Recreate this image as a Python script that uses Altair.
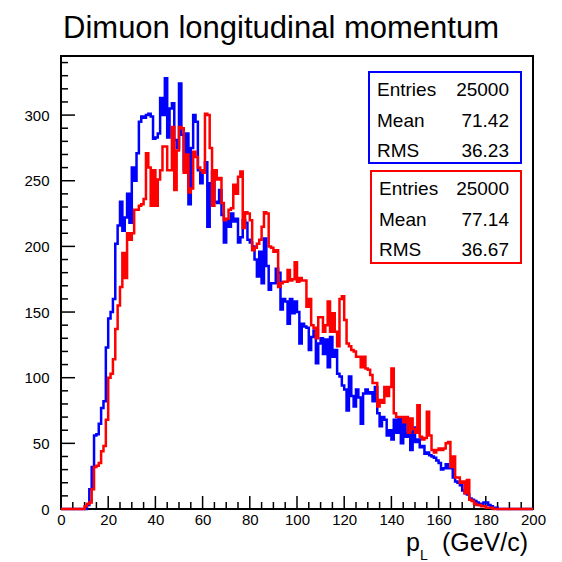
import altair as alt
import pandas as pd

FONT = "Liberation Sans"

# Bin contents, 1 GeV/c bins from 0 to 200 GeV/c
blue_counts = [
    0, 0, 0, 0, 0, 0, 0, 0, 0, 0,
    0, 3, 15, 32, 56, 57, 65, 77, 82, 123,
    145, 150, 160, 202, 216, 234, 212, 222, 240, 218,
    260, 250, 271, 295, 299, 298, 300, 301, 299, 282,
    283, 286, 313, 300, 328, 283, 305, 309, 281, 275,
    324, 285, 258, 286, 232, 275, 300, 295, 258, 248,
    258, 264, 215, 248, 257, 234, 233, 243, 224, 203,
    220, 215, 225, 219, 221, 203, 207, 220, 218, 205,
    203, 200, 190, 177, 196, 172, 206, 185, 167, 172,
    172, 183, 180, 152, 160, 158, 141, 160, 149, 158,
    150, 126, 141, 139, 138, 121, 131, 136, 111, 126,
    130, 118, 129, 108, 131, 116, 121, 103, 101, 94,
    91, 75, 101, 86, 78, 91, 85, 65, 88, 91,
    88, 89, 82, 93, 73, 63, 70, 68, 56, 60,
    53, 68, 58, 69, 50, 68, 55, 58, 45, 62,
    51, 53, 47, 48, 42, 43, 41, 40, 39, 37,
    35, 30, 31, 34, 31, 31, 24, 21, 20, 18,
    14, 12, 11, 8, 7, 6, 5, 3, 4, 5,
    5, 3, 2, 1, 1, 0, 0, 0, 0, 0,
    0, 0, 0, 0, 0, 0, 0, 0, 0, 0,
]

red_counts = [
    0, 0, 0, 0, 0, 0, 0, 0, 0, 0,
    2, 4, 5, 15, 32, 33, 35, 44, 48, 68,
    100, 103, 114, 137, 155, 169, 195, 176, 210, 205,
    210, 228, 228, 231, 232, 236, 271, 260, 231, 258,
    231, 251, 258, 276, 276, 258, 258, 291, 243, 273,
    291, 290, 256, 270, 241, 244, 272, 268, 260, 258,
    256, 301, 300, 275, 231, 258, 251, 252, 233, 220,
    221, 228, 229, 247, 240, 253, 257, 214, 226, 225,
    220, 197, 199, 202, 205, 215, 226, 225, 200, 199,
    196, 197, 169, 172, 173, 173, 182, 174, 175, 188,
    173, 176, 174, 174, 154, 160, 140, 138, 130, 146,
    146, 135, 140, 158, 135, 149, 135, 124, 160, 162,
    144, 126, 124, 121, 120, 116, 116, 108, 116, 107,
    106, 102, 96, 96, 78, 83, 81, 93, 86, 93,
    107, 73, 70, 70, 70, 66, 70, 58, 69, 61,
    58, 79, 55, 53, 54, 74, 56, 45, 43, 45,
    46, 45, 46, 50, 51, 32, 40, 24, 24, 20,
    21, 12, 22, 7, 6, 4, 3, 3, 2, 2,
    1, 1, 1, 0, 0, 0, 0, 0, 0, 0,
    0, 0, 0, 0, 0, 0, 0, 0, 0, 0,
]

stat_names = ["Entries", "Mean", "RMS"]
blue_stats = ["25000", "71.42", "36.23"]
red_stats = ["25000", "77.14", "36.67"]

title_text = "Dimuon longitudinal momentum"

x_major = list(range(0, 201, 20))
x_minor = [v for v in range(0, 201, 5) if v % 20]
y_major = list(range(0, 301, 50))
y_minor = [v for v in range(0, 341, 10) if v % 50]

W, H = 472, 453

x_scale = alt.Scale(domain=[0, 200], nice=False, zero=False)
y_scale = alt.Scale(domain=[0, 345], nice=False)

x_axis = alt.Axis(values=x_major, title=None, ticks=False, domain=False, grid=False,
                  labelFont=FONT, labelFontSize=15, labelColor="black",
                  labelPadding=3, labelFlush=False, format="d")
y_axis = alt.Axis(values=y_major, title=None, ticks=False, domain=False, grid=False,
                  labelFont=FONT, labelFontSize=15, labelColor="black",
                  labelPadding=12, labelFlush=False, format="d")


def hist_frame(counts):
    edges = list(range(len(counts) + 1))
    return pd.DataFrame({"pL": edges, "n": counts + [counts[-1]]})


def hist_layer(counts, color):
    return alt.Chart(hist_frame(counts)).mark_line(
        interpolate="step-after", color=color, strokeWidth=2.5
    ).encode(
        x=alt.X("pL:Q", scale=x_scale, axis=x_axis),
        y=alt.Y("n:Q", scale=y_scale, axis=y_axis),
    )


def x_ticks(values, length):
    return alt.Chart(pd.DataFrame({"pL": values})).mark_rule(
        color="black", strokeWidth=1.5
    ).encode(
        x=alt.X("pL:Q", scale=x_scale, axis=x_axis),
        y=alt.value(H), y2=alt.value(H - length),
    )


def y_ticks(values, length):
    return alt.Chart(pd.DataFrame({"n": values})).mark_rule(
        color="black", strokeWidth=1.5
    ).encode(
        y=alt.Y("n:Q", scale=y_scale, axis=y_axis),
        x=alt.value(0), x2=alt.value(length),
    )


def stat_box(names, values, color, left, top, bottom):
    box = alt.Chart(pd.DataFrame({"b": [0]})).mark_rect(
        fill="white", stroke=color, strokeWidth=2
    ).encode(x=alt.value(left), x2=alt.value(460), y=alt.value(top), y2=alt.value(bottom))
    layers = [box]
    for i, (name, val) in enumerate(zip(names, values)):
        base_y = top + 24 + i * 30.5
        layers.append(
            alt.Chart(pd.DataFrame({"t": [name]})).mark_text(
                align="left", baseline="alphabetic", font=FONT, fontSize=19, color="black"
            ).encode(x=alt.value(left + 8), y=alt.value(base_y), text="t:N")
        )
        layers.append(
            alt.Chart(pd.DataFrame({"t": [val]})).mark_text(
                align="right", baseline="alphabetic", font=FONT, fontSize=19, color="black"
            ).encode(x=alt.value(448), y=alt.value(base_y), text="t:N")
        )
    return layers


def label(text, x, y, size, align="left"):
    return alt.Chart(pd.DataFrame({"t": [text]})).mark_text(
        align=align, baseline="alphabetic", font=FONT, fontSize=size, color="black"
    ).encode(x=alt.value(x), y=alt.value(y), text="t:N")


layers = [
    x_ticks(x_major, 13), x_ticks(x_minor, 7),
    y_ticks(y_major, 14), y_ticks(y_minor, 7),
    hist_layer(blue_counts, "#0000ff"),
    hist_layer(red_counts, "#ff0000"),
]
layers += stat_box(stat_names, blue_stats, "#0000ff", 308, 16, 107)
layers += stat_box(stat_names, red_stats, "#ff0000", 310, 115, 207)
layers += [
    label(title_text, 220, -18, 31, align="center"),
    label("p", 345, 495, 25),
    label("L", 359, 504, 14),
    label("(GeV/c)", 467, 495, 25, align="right"),
]

chart = alt.layer(*layers).properties(
    width=W, height=H,
    autosize=alt.AutoSizeParams(type="none"),
    padding={"left": 61, "top": 56, "right": 29, "bottom": 53},
    background="white",
).configure_view(stroke="black", strokeWidth=2)

chart.save("out.html", embed_options={"renderer": "svg", "actions": False})
